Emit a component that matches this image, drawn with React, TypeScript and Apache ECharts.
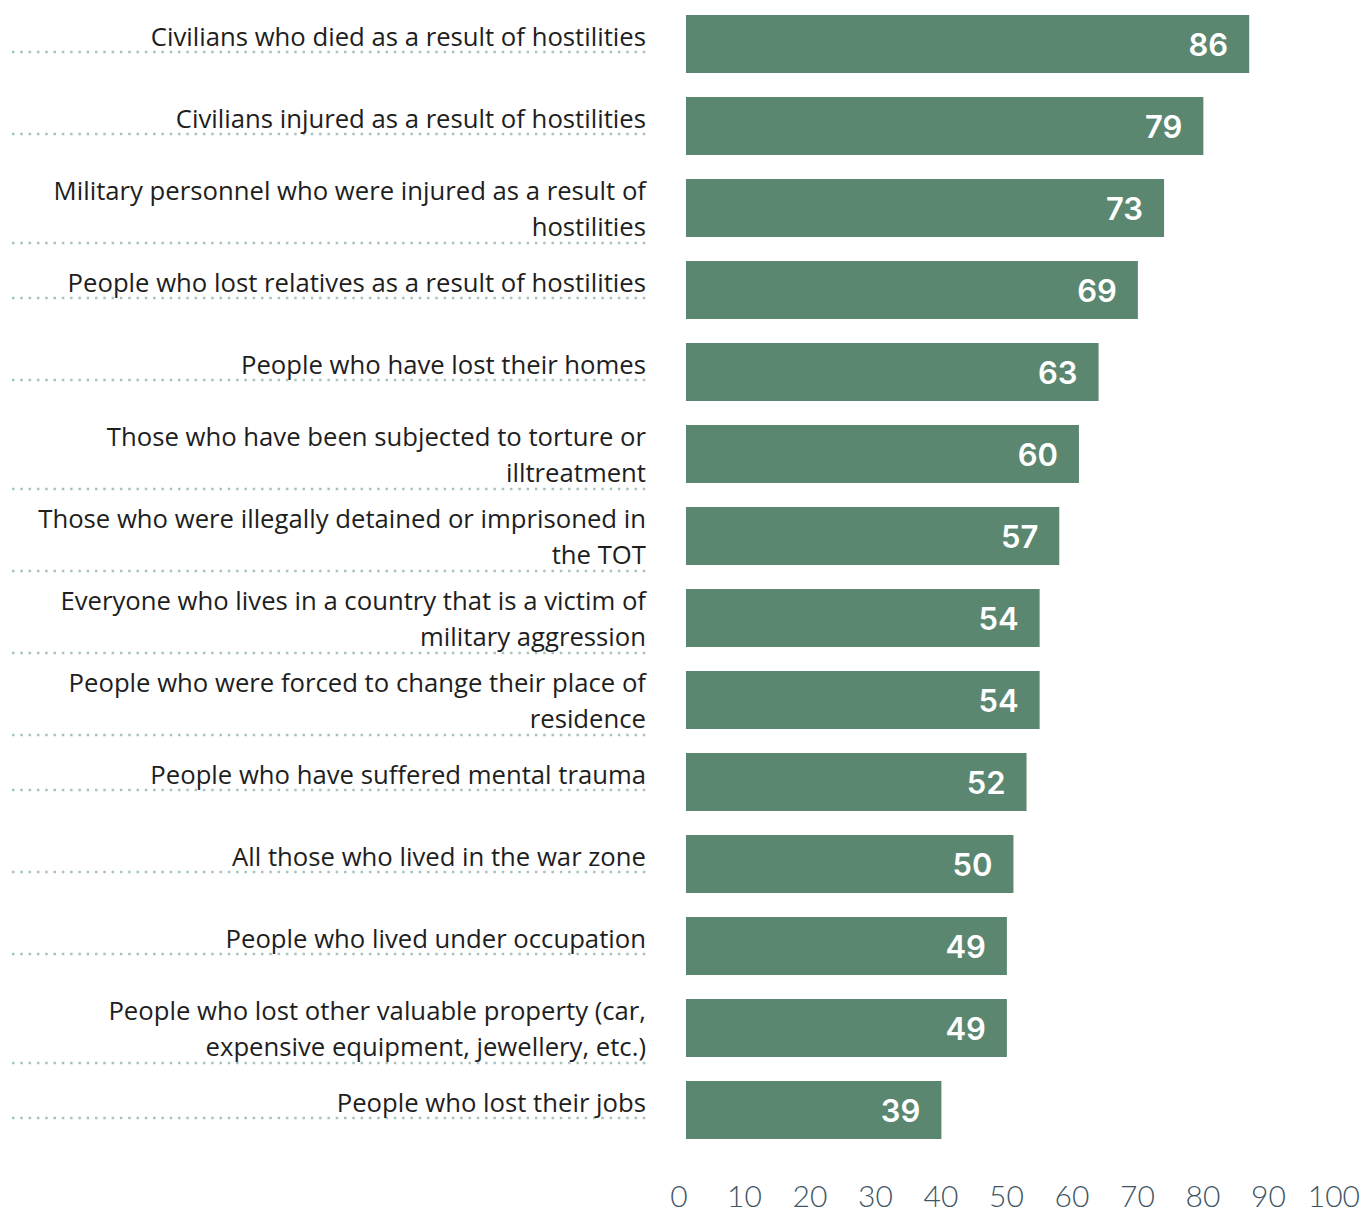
import React, { useEffect, useRef } from "react";
import * as echarts from "echarts";

const categories: string[] = [
  "Civilians who died as a result of hostilities",
  "Civilians injured as a result of hostilities",
  "Military personnel who were injured as a result of\nhostilities",
  "People who lost relatives as a result of hostilities",
  "People who have lost their homes",
  "Those who have been subjected to torture or\nilltreatment",
  "Those who were illegally detained or imprisoned in\nthe TOT",
  "Everyone who lives in a country that is a victim of\nmilitary aggression",
  "People who were forced to change their place of\nresidence",
  "People who have suffered mental trauma",
  "All those who lived in the war zone",
  "People who lived under occupation",
  "People who lost other valuable property (car,\nexpensive equipment, jewellery, etc.)",
  "People who lost their jobs",
];

const values: number[] = [86, 79, 73, 69, 63, 60, 57, 54, 54, 52, 50, 49, 49, 39];

const axisMin = 0;
const axisMax = 100;
const axisInterval = 10;

const BAR_COLOR = "#5b8771";
const DOT_COLOR = "#a6c4bd";

export default function App() {
  const ref = useRef<HTMLDivElement>(null);

  useEffect(() => {
    if (!ref.current) return;
    const chart = echarts.init(ref.current, undefined, { renderer: "svg" });

    const labelData = categories.map((_, i) => [0, i]);

    chart.setOption({
      animation: false,
      backgroundColor: "#ffffff",
      grid: { left: 686, right: 16, top: 3, bottom: 62, containLabel: false },
      xAxis: {
        type: "value",
        min: axisMin,
        max: axisMax,
        interval: axisInterval,
        axisLine: { show: false },
        axisTick: { show: false },
        splitLine: { show: false },
        axisLabel: {
          margin: 29,
          fontFamily: "Lato",
          fontWeight: 300,
          fontSize: 30,
          color: "#3e5566",
          padding: [0, 14, 0, 0],
        },
      },
      yAxis: {
        type: "category",
        data: categories,
        inverse: true,
        axisLine: { show: false },
        axisTick: { show: false },
        axisLabel: { show: false },
        splitLine: { show: false },
      },
      series: [
        {
          type: "bar",
          data: values,
          barCategoryGap: "29%",
          itemStyle: { color: BAR_COLOR },
          label: {
            show: true,
            position: "insideRight",
            distance: 21,
            color: "#ffffff",
            fontFamily: "Inter",
            fontWeight: 600,
            fontSize: 31,
          },
          silent: true,
        },
        {
          type: "custom",
          coordinateSystem: "cartesian2d",
          data: labelData,
          clip: false,
          silent: true,
          renderItem: (params: any, api: any) => {
            const idx = api.value(1);
            const pt = api.coord([0, idx]);
            const text = categories[idx];
            const lines = text.split("\n").length;
            const cy = pt[1];
            const textY = lines > 1 ? cy : cy - 8;
            const lineY = lines > 1 ? cy + 35 : cy + 8;
            return {
              type: "group",
              children: [
                {
                  type: "line",
                  shape: { x1: pt[0] - 674, y1: lineY, x2: pt[0] - 37, y2: lineY },
                  style: {
                    stroke: DOT_COLOR,
                    lineWidth: 2.5,
                    lineDash: [2.5, 5.8],
                  },
                },
                {
                  type: "text",
                  x: pt[0] - 40,
                  y: textY,
                  style: {
                    text,
                    align: "right",
                    verticalAlign: "middle",
                    fontFamily: "Open Sans",
                    fontSize: 25.7,
                    lineHeight: 36,
                    fill: "#1e1e1e",
                  },
                },
              ],
            };
          },
        },
      ],
    });

    return () => chart.dispose();
  }, []);

  return (
    <div
      ref={ref}
      style={{ position: "absolute", left: 0, top: 0, width: 1363, height: 1213 }}
    />
  );
}
